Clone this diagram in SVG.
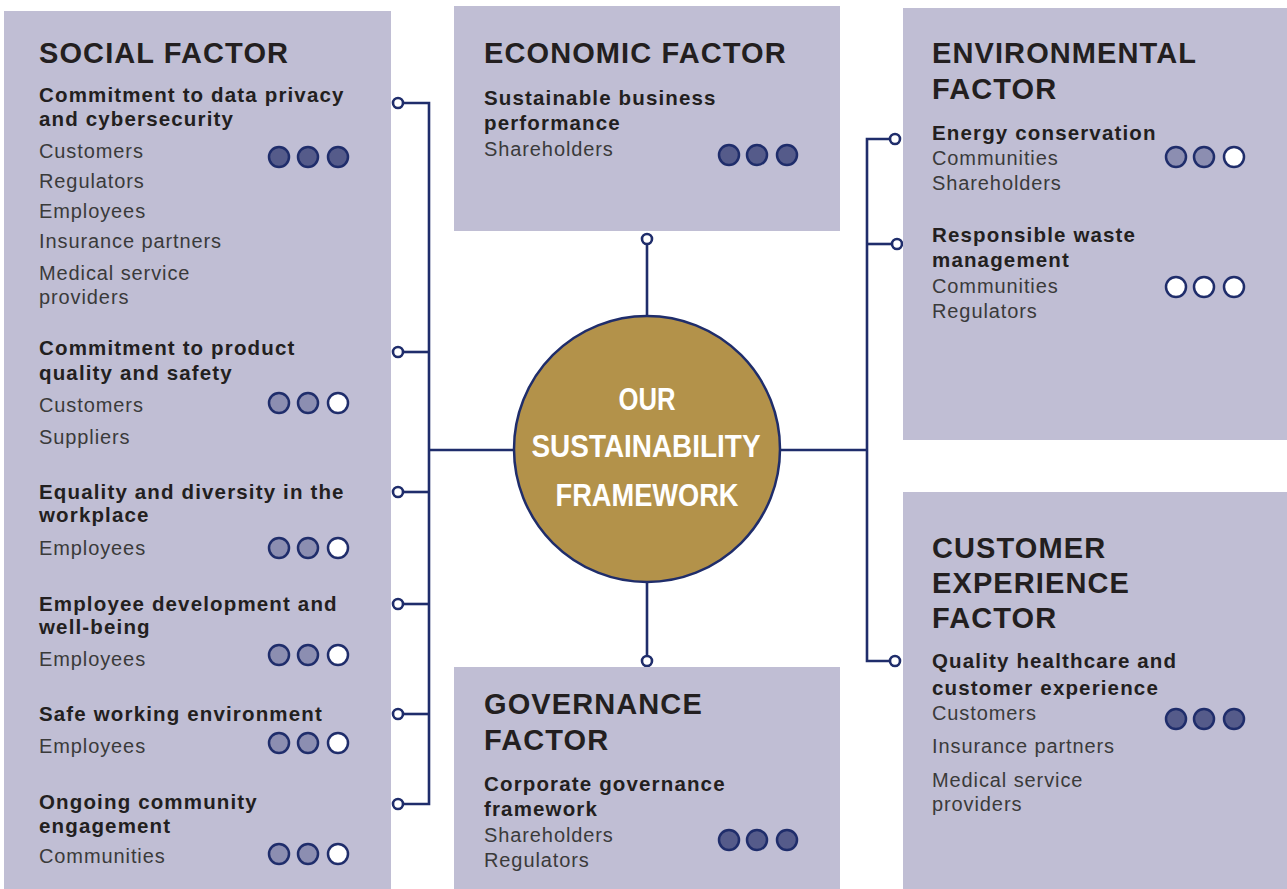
<svg xmlns="http://www.w3.org/2000/svg" width="1287" height="889" viewBox="0 0 1287 889">
<defs>
<style>
.box{fill:#c0bed4}
.h{font-family:"Liberation Sans",Arial,sans-serif;font-weight:bold;font-size:29px;letter-spacing:1.1px;fill:#231f20}
.s{font-family:"Liberation Sans",Arial,sans-serif;font-weight:bold;font-size:20.5px;letter-spacing:1.15px;fill:#231f20}
.t{font-family:"Liberation Sans",Arial,sans-serif;font-size:20px;letter-spacing:0.9px;fill:#3a3a3a}
.c{font-family:"Liberation Sans Narrow","Liberation Sans",Arial,sans-serif;font-weight:bold;font-size:32px;fill:#ffffff}
.d{stroke:#1f2d6b;stroke-width:2.5}
.dk{fill:#555b8a}
.md{fill:#8c8eb1}
.wh{fill:#ffffff}
.ln{fill:none;stroke:#1f2d6b;stroke-width:2.6}
.pt{fill:#ffffff;stroke:#1f2d6b;stroke-width:2.6}
</style>
</defs>
<rect width="1287" height="889" fill="#ffffff"/>

<g id="connectors">
<polyline class="ln" points="403,103 429,103 429,804 403,804"/>
<line class="ln" x1="403" y1="352" x2="429" y2="352"/>
<line class="ln" x1="403" y1="492" x2="429" y2="492"/>
<line class="ln" x1="403" y1="604" x2="429" y2="604"/>
<line class="ln" x1="403" y1="714" x2="429" y2="714"/>
<line class="ln" x1="429" y1="450" x2="514" y2="450"/>
<polyline class="ln" points="890,139 867,139 867,661 890,661"/>
<line class="ln" x1="867" y1="244" x2="892" y2="244"/>
<line class="ln" x1="780" y1="450" x2="867" y2="450"/>
<line class="ln" x1="647" y1="243" x2="647" y2="316"/>
<line class="ln" x1="647" y1="582" x2="647" y2="656"/>
<circle class="pt" cx="398" cy="103" r="5"/>
<circle class="pt" cx="398" cy="352" r="5"/>
<circle class="pt" cx="398" cy="492" r="5"/>
<circle class="pt" cx="398" cy="604" r="5"/>
<circle class="pt" cx="398" cy="714" r="5"/>
<circle class="pt" cx="398" cy="804" r="5"/>
<circle class="pt" cx="895" cy="139" r="5"/>
<circle class="pt" cx="897" cy="244" r="5"/>
<circle class="pt" cx="895" cy="661" r="5"/>
<circle class="pt" cx="647" cy="239" r="5"/>
<circle class="pt" cx="647" cy="661" r="5"/>
</g>

<g id="center">
<circle cx="647" cy="449" r="133" fill="#b3924a" stroke="#1f2d6b" stroke-width="2.5"/>
<text class="c" x="647" y="410" text-anchor="middle" textLength="57" lengthAdjust="spacingAndGlyphs">OUR</text>
<text class="c" x="646" y="457" text-anchor="middle" textLength="229" lengthAdjust="spacingAndGlyphs">SUSTAINABILITY</text>
<text class="c" x="647" y="506" text-anchor="middle" textLength="183" lengthAdjust="spacingAndGlyphs">FRAMEWORK</text>
</g>

<g id="social">
<rect class="box" x="4" y="11" width="387" height="878"/>
<text class="h" x="39" y="63">SOCIAL FACTOR</text>
<text class="s" x="39" y="102">Commitment to data privacy</text>
<text class="s" x="39" y="126">and cybersecurity</text>
<text class="t" x="39" y="158">Customers</text>
<text class="t" x="39" y="188">Regulators</text>
<text class="t" x="39" y="218">Employees</text>
<text class="t" x="39" y="248">Insurance partners</text>
<text class="t" x="39" y="280">Medical service</text>
<text class="t" x="39" y="304">providers</text>
<circle class="d dk" cx="279" cy="157" r="10"/><circle class="d dk" cx="308" cy="157" r="10"/><circle class="d dk" cx="338" cy="157" r="10"/>

<text class="s" x="39" y="355">Commitment to product</text>
<text class="s" x="39" y="380">quality and safety</text>
<text class="t" x="39" y="412">Customers</text>
<text class="t" x="39" y="444">Suppliers</text>
<circle class="d md" cx="279" cy="403" r="10"/><circle class="d md" cx="308" cy="403" r="10"/><circle class="d wh" cx="338" cy="403" r="10"/>

<text class="s" x="39" y="499">Equality and diversity in the</text>
<text class="s" x="39" y="522">workplace</text>
<text class="t" x="39" y="555">Employees</text>
<circle class="d md" cx="279" cy="548" r="10"/><circle class="d md" cx="308" cy="548" r="10"/><circle class="d wh" cx="338" cy="548" r="10"/>

<text class="s" x="39" y="611">Employee development and</text>
<text class="s" x="39" y="634">well-being</text>
<text class="t" x="39" y="666">Employees</text>
<circle class="d md" cx="279" cy="655" r="10"/><circle class="d md" cx="308" cy="655" r="10"/><circle class="d wh" cx="338" cy="655" r="10"/>

<text class="s" x="39" y="721">Safe working environment</text>
<text class="t" x="39" y="753">Employees</text>
<circle class="d md" cx="279" cy="743" r="10"/><circle class="d md" cx="308" cy="743" r="10"/><circle class="d wh" cx="338" cy="743" r="10"/>

<text class="s" x="39" y="809">Ongoing community</text>
<text class="s" x="39" y="833">engagement</text>
<text class="t" x="39" y="863">Communities</text>
<circle class="d md" cx="279" cy="854" r="10"/><circle class="d md" cx="308" cy="854" r="10"/><circle class="d wh" cx="338" cy="854" r="10"/>
</g>

<g id="economic">
<rect class="box" x="454" y="6" width="386" height="225"/>
<text class="h" x="484" y="63">ECONOMIC FACTOR</text>
<text class="s" x="484" y="105">Sustainable business</text>
<text class="s" x="484" y="130">performance</text>
<text class="t" x="484" y="156">Shareholders</text>
<circle class="d dk" cx="729" cy="155" r="10"/><circle class="d dk" cx="757" cy="155" r="10"/><circle class="d dk" cx="787" cy="155" r="10"/>
</g>

<g id="environmental">
<rect class="box" x="903" y="8" width="384" height="432"/>
<text class="h" x="932" y="63">ENVIRONMENTAL</text>
<text class="h" x="932" y="99">FACTOR</text>
<text class="s" x="932" y="140">Energy conservation</text>
<text class="t" x="932" y="165">Communities</text>
<text class="t" x="932" y="190">Shareholders</text>
<circle class="d md" cx="1176" cy="157" r="10"/><circle class="d md" cx="1204" cy="157" r="10"/><circle class="d wh" cx="1234" cy="157" r="10"/>
<text class="s" x="932" y="242">Responsible waste</text>
<text class="s" x="932" y="267">management</text>
<text class="t" x="932" y="293">Communities</text>
<text class="t" x="932" y="318">Regulators</text>
<circle class="d wh" cx="1176" cy="287" r="10"/><circle class="d wh" cx="1204" cy="287" r="10"/><circle class="d wh" cx="1234" cy="287" r="10"/>
</g>

<g id="customer">
<rect class="box" x="903" y="492" width="384" height="397"/>
<text class="h" x="932" y="558">CUSTOMER</text>
<text class="h" x="932" y="593">EXPERIENCE</text>
<text class="h" x="932" y="628">FACTOR</text>
<text class="s" x="932" y="668">Quality healthcare and</text>
<text class="s" x="932" y="695">customer experience</text>
<text class="t" x="932" y="720">Customers</text>
<text class="t" x="932" y="753">Insurance partners</text>
<text class="t" x="932" y="787">Medical service</text>
<text class="t" x="932" y="811">providers</text>
<circle class="d dk" cx="1176" cy="719" r="10"/><circle class="d dk" cx="1204" cy="719" r="10"/><circle class="d dk" cx="1234" cy="719" r="10"/>
</g>

<g id="governance">
<rect class="box" x="454" y="667" width="386" height="222"/>
<text class="h" x="484" y="714">GOVERNANCE</text>
<text class="h" x="484" y="750">FACTOR</text>
<text class="s" x="484" y="791">Corporate governance</text>
<text class="s" x="484" y="816">framework</text>
<text class="t" x="484" y="842">Shareholders</text>
<text class="t" x="484" y="867">Regulators</text>
<circle class="d dk" cx="729" cy="840" r="10"/><circle class="d dk" cx="757" cy="840" r="10"/><circle class="d dk" cx="787" cy="840" r="10"/>
</g>
</svg>
